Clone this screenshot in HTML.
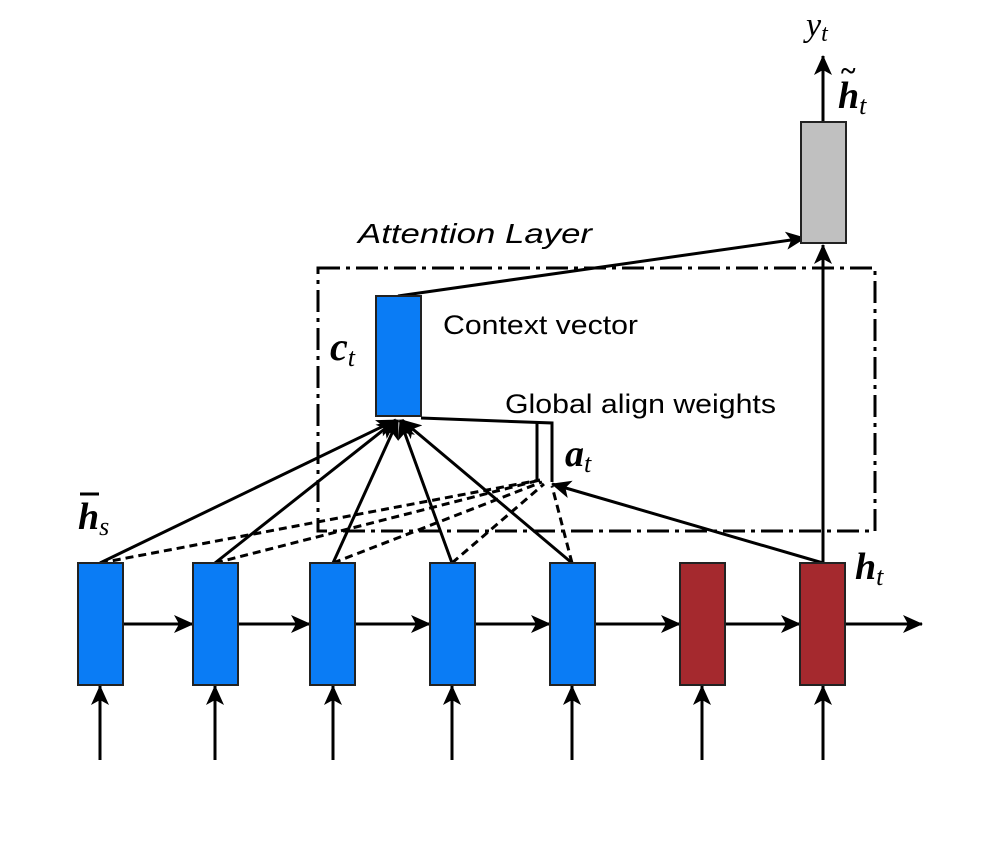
<!DOCTYPE html>
<html><head><meta charset="utf-8"><style>body{margin:0;background:#fff}</style></head><body>
<svg width="1004" height="836" viewBox="0 0 1004 836" xmlns="http://www.w3.org/2000/svg">
<defs>
<marker id="b" markerWidth="20" markerHeight="18" refX="19" refY="9" orient="auto" markerUnits="userSpaceOnUse" viewBox="0 0 20 18"><path d="M0,0L20,9L0,18L5,9z" fill="#000"/></marker></defs>
<rect x="318" y="268" width="557" height="263" fill="none" stroke="#000" stroke-width="3" stroke-dasharray="22,6,4,6"/>
<text x="358" y="243" font-family="Liberation Sans" font-style="italic" font-size="28" textLength="234" lengthAdjust="spacingAndGlyphs">Attention Layer</text>
<g stroke="#000" stroke-width="3" fill="none">
<line x1="398" y1="296" x2="805" y2="238" marker-end="url(#b)"/>
<line x1="823" y1="563" x2="823" y2="245" marker-end="url(#b)"/>
<line x1="823" y1="122" x2="823" y2="56" marker-end="url(#b)"/>
<line x1="100" y1="563" x2="396" y2="420" marker-end="url(#b)"/>
<line x1="215" y1="563" x2="396" y2="420" marker-end="url(#b)"/>
<line x1="333" y1="563" x2="398" y2="420" marker-end="url(#b)"/>
<line x1="452" y1="563" x2="400" y2="420" marker-end="url(#b)"/>
<line x1="572" y1="563" x2="402" y2="420" marker-end="url(#b)"/>
<polyline points="552,482 552,423 421,418"/>
<line x1="823" y1="563" x2="552" y2="484" marker-end="url(#b)"/>
<line x1="537" y1="482" x2="537" y2="423"/>
</g>
<g stroke="#000" stroke-width="3" stroke-dasharray="8,5" fill="none">
<line x1="100" y1="563" x2="540" y2="480"/>
<line x1="215" y1="563" x2="540" y2="480"/>
<line x1="333" y1="563" x2="542" y2="482"/>
<line x1="452" y1="563" x2="544" y2="484"/>
<line x1="572" y1="563" x2="552" y2="486"/>
</g>
<g stroke="#000" stroke-width="3" marker-end="url(#b)">
<line x1="123" y1="624" x2="193" y2="624"/><line x1="238" y1="624" x2="310" y2="624"/>
<line x1="355" y1="624" x2="430" y2="624"/><line x1="475" y1="624" x2="550" y2="624"/>
<line x1="595" y1="624" x2="680" y2="624"/><line x1="725" y1="624" x2="800" y2="624"/>
<line x1="846" y1="624" x2="922" y2="624"/>
<line x1="100" y1="760" x2="100" y2="686"/><line x1="215" y1="760" x2="215" y2="686"/>
<line x1="333" y1="760" x2="333" y2="686"/><line x1="452" y1="760" x2="452" y2="686"/>
<line x1="572" y1="760" x2="572" y2="686"/><line x1="702" y1="760" x2="702" y2="686"/>
<line x1="823" y1="760" x2="823" y2="686"/>
</g>
<g stroke="#222" stroke-width="2">
<rect x="801" y="122" width="45" height="121" fill="#c0c0c0"/>
<rect x="376" y="296" width="45" height="120" fill="#0a7cf5"/>
<rect x="78" y="563" width="45" height="122" fill="#0a7cf5"/>
<rect x="193" y="563" width="45" height="122" fill="#0a7cf5"/>
<rect x="310" y="563" width="45" height="122" fill="#0a7cf5"/>
<rect x="430" y="563" width="45" height="122" fill="#0a7cf5"/>
<rect x="550" y="563" width="45" height="122" fill="#0a7cf5"/>
<rect x="680" y="563" width="45" height="122" fill="#a5292e"/>
<rect x="800" y="563" width="45" height="122" fill="#a5292e"/>
</g>
<g font-family="Liberation Sans" font-size="27">
<text x="443" y="334" textLength="195" lengthAdjust="spacingAndGlyphs">Context vector</text>
<text x="505" y="413" textLength="271" lengthAdjust="spacingAndGlyphs">Global align weights</text>
</g>
<g font-family="Liberation Serif" font-style="italic" font-weight="bold">
<text x="330" y="360" font-size="40">c<tspan font-size="26" dy="6" font-weight="normal">t</tspan></text>
<text x="565" y="466" font-size="38">a<tspan font-size="26" dy="6" font-weight="normal">t</tspan></text>
<text x="78" y="529" font-size="38">h<tspan font-size="26" dy="6" font-weight="normal">s</tspan></text>
<line x1="80" y1="494" x2="99" y2="494" stroke="#000" stroke-width="3"/>
<text x="855" y="579" font-size="38">h<tspan font-size="26" dy="6" font-weight="normal">t</tspan></text>
<text x="838" y="108" font-size="38">h<tspan font-size="26" dy="6" font-weight="normal">t</tspan></text>
<text x="840" y="80" font-size="28" font-weight="bold">~</text>
<text x="806" y="36" font-size="34" font-weight="normal">y<tspan font-size="24" dy="5">t</tspan></text>
</g>
</svg>
</body></html>
